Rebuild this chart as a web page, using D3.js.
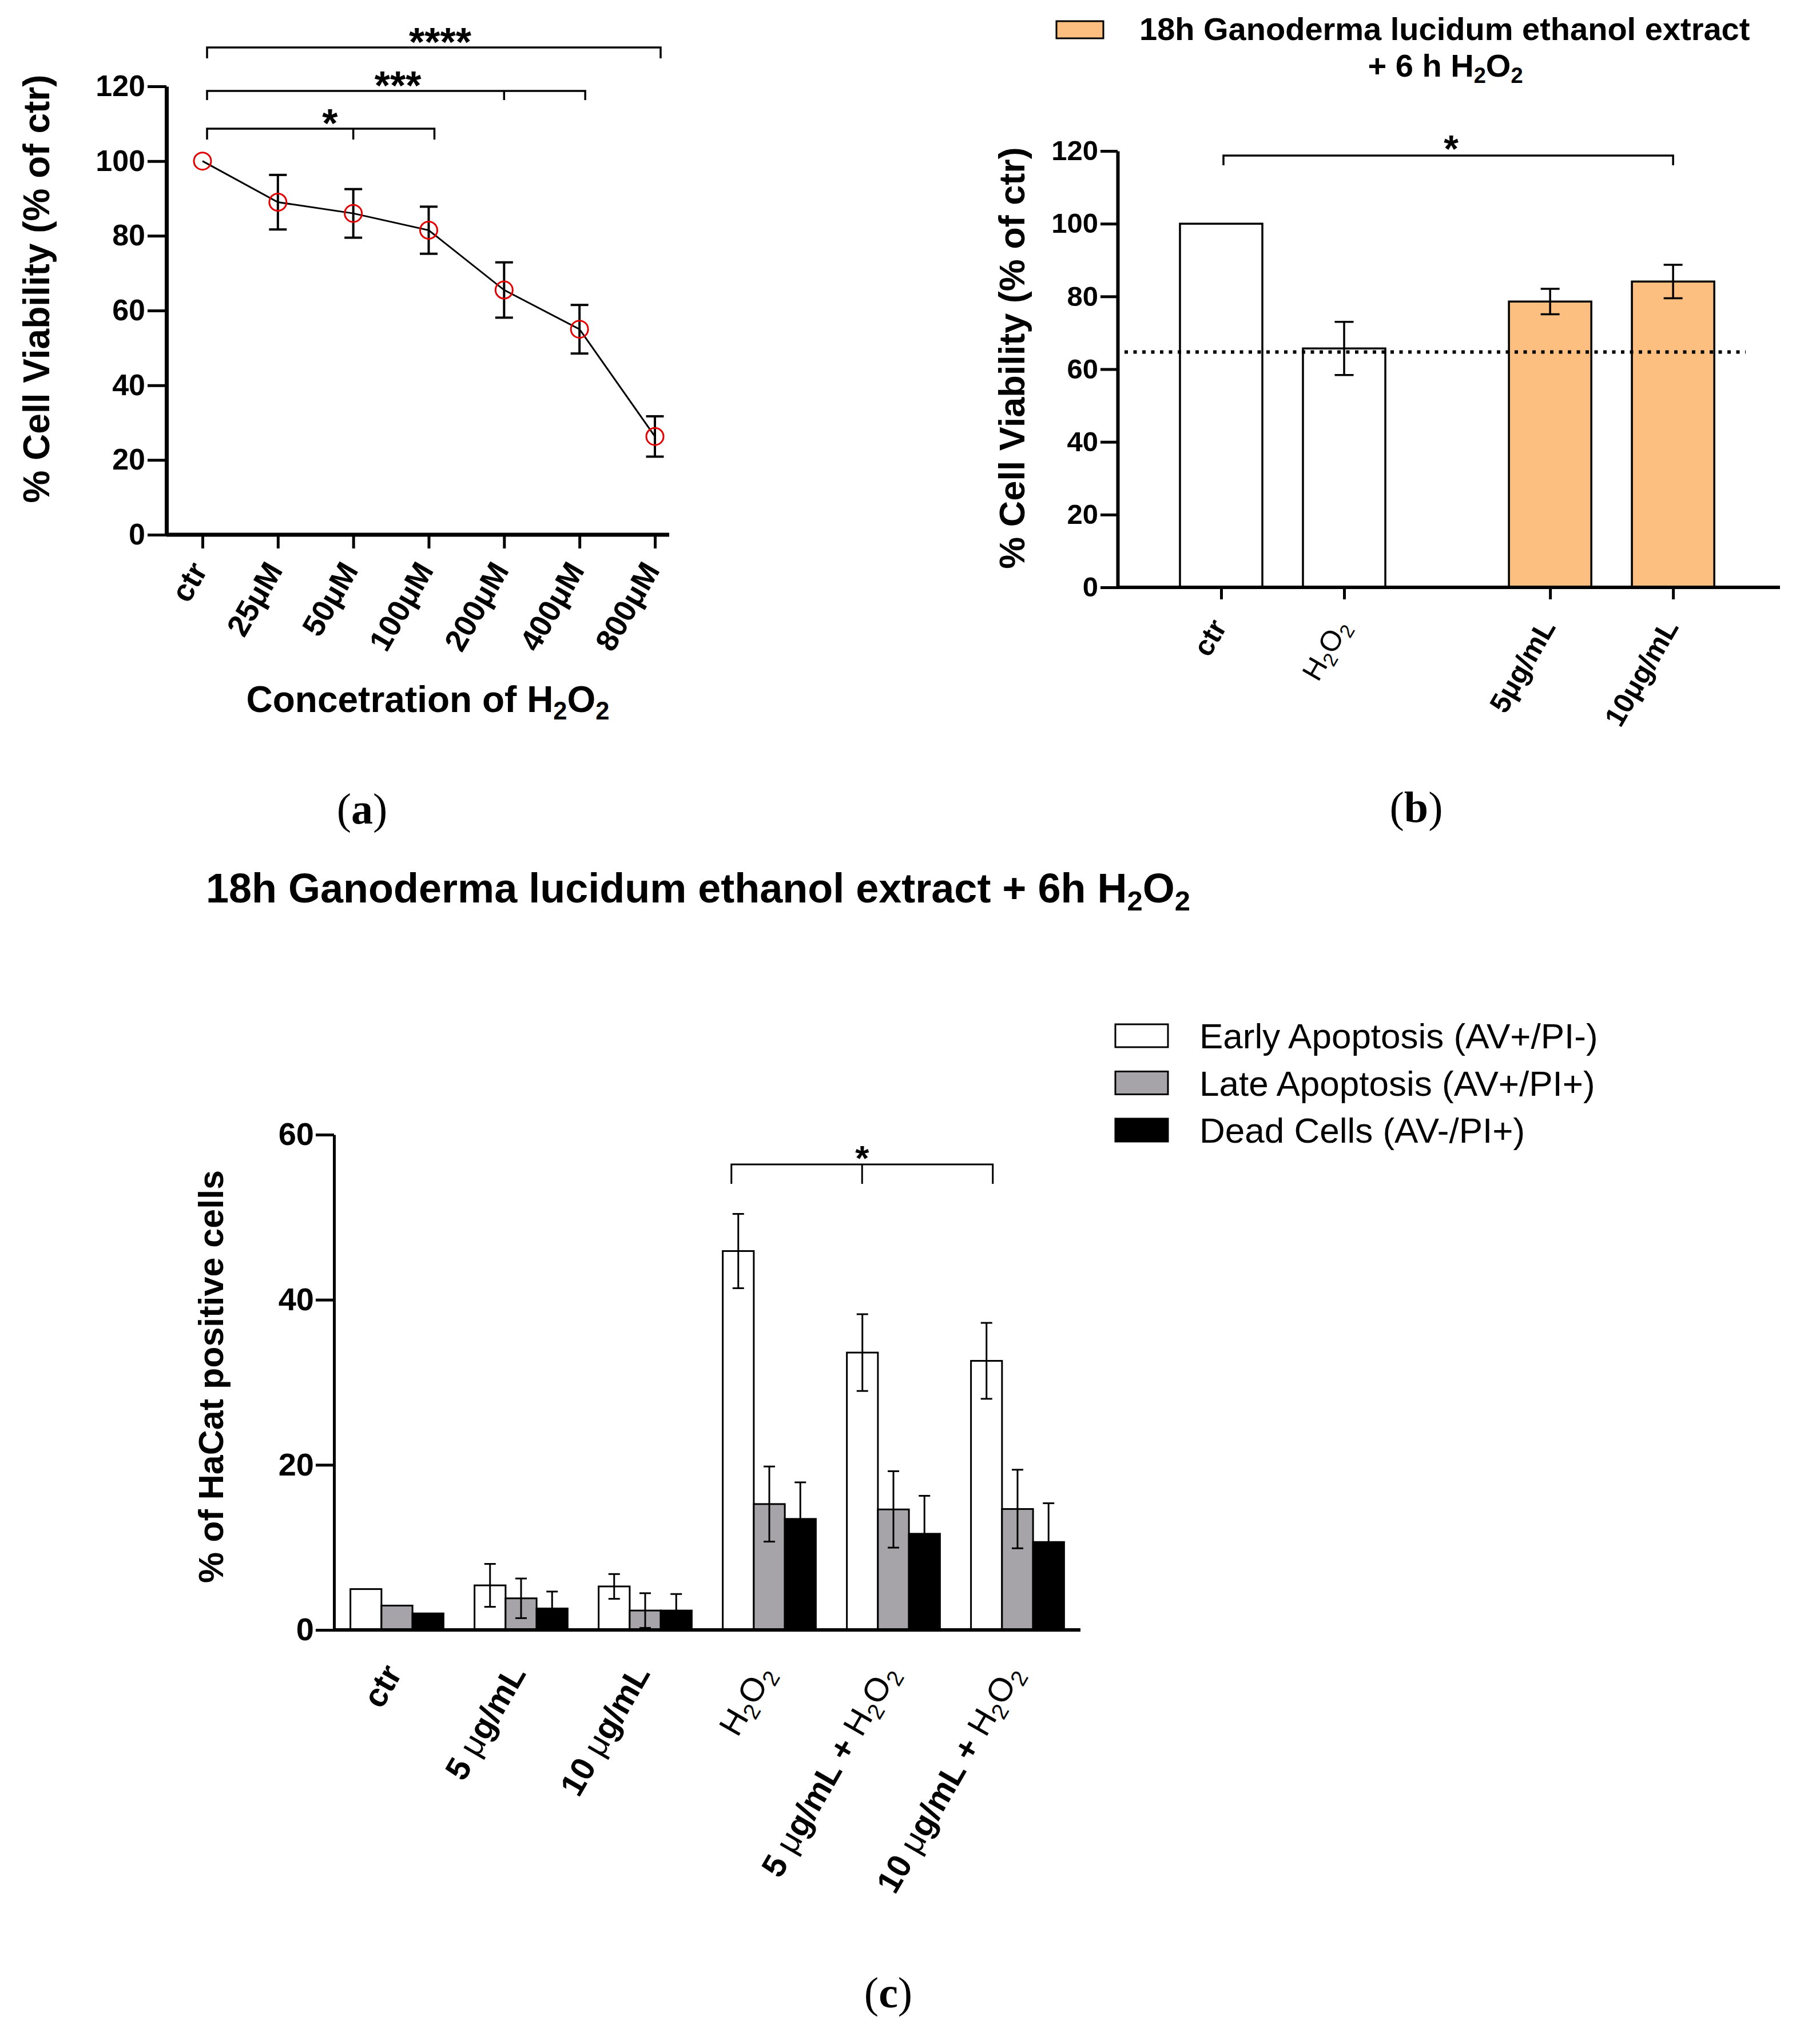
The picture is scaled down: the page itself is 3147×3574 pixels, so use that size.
<!DOCTYPE html>
<html><head><meta charset="utf-8">
<script src="https://cdn.jsdelivr.net/npm/d3@7"></script>
<style>
body{margin:0;background:#fff}
svg{display:block}
</style>
</head><body>
<svg id="fig" width="3147" height="3574"></svg>
<script>
// ---------------- DATA ----------------
// Panel (a)
const aCategories = ["ctr","25μM","50μM","100μM","200μM","400μM","800μM"];
const aValues = [100, 89, 86, 81.5, 65.5, 55, 26.3];
const aErrors = [0, 7.3, 6.5, 6.3, 7.4, 6.5, 5.4];
const aTicks = [0, 20, 40, 60, 80, 100, 120];
const aBrackets = [
  {from:"ctr", mid:"50μM", to:"100μM", label:"*"},
  {from:"ctr", mid:"200μM", to:"400μM", label:"***"},
  {from:"ctr", mid:null, to:"800μM", label:"****"}
];
const aXTitle = "Concetration of H2O2";
const aYTitle = "% Cell Viability (% of ctr)";

// Panel (b)
const bCategories = ["ctr","H2O2","5μg/mL","10μg/mL"];
const bValues = [100, 65.7, 78.6, 84.1];
const bErrors = [0, 7.3, 3.5, 4.6];
const bTreated = [false, false, true, true];
const bReference = 64.7;
const bTicks = [0, 20, 40, 60, 80, 100, 120];
const bLegend = ["18h Ganoderma lucidum ethanol extract", "+ 6 h H2O2"];
const bYTitle = "% Cell Viability (% of ctr)";
const bBracket = {from:"ctr", to:"10μg/mL", label:"*"};

// Panel (c)
const cTitle = "18h Ganoderma lucidum ethanol extract + 6h H2O2";
const cGroups = ["ctr","5 μg/mL","10 μg/mL","H2O2","5 μg/mL + H2O2","10 μg/mL + H2O2"];
const cSeries = ["Early Apoptosis (AV+/PI-)","Late Apoptosis (AV+/PI+)","Dead Cells (AV-/PI+)"];
const cEarly    = [4.95, 5.4, 5.27, 45.9, 33.6, 32.6];
const cEarlyErr = [0, 2.6, 1.5, 4.5, 4.65, 4.6];
const cLate     = [2.95, 3.83, 2.35, 15.25, 14.6, 14.65];
const cLateErr  = [0, 2.4, 2.1, 4.55, 4.63, 4.76];
const cDead     = [2.0, 2.6, 2.35, 13.45, 11.65, 10.65];
const cDeadErr  = [0, 2.05, 2.0, 4.43, 4.6, 4.7];
const cTicks = [0, 20, 40, 60];
const cYTitle = "% of HaCat positive cells";
const cBracket = {from:"H2O2", mid:"5 μg/mL + H2O2", to:"10 μg/mL + H2O2", label:"*"};

const panelLabels = ["a","b","c"];

// ---------------- HELPERS ----------------
const FONT = '"Liberation Sans", Arial, Helvetica, sans-serif';
const SERIF = '"Liberation Serif", "Times New Roman", serif';
const svg = d3.select("#fig");

function rich(sel, str, size, opts = {}) {
  const tokens = str.split(/(H2O2|μ)/).filter(s => s.length);
  let shifted = false;
  const sh = size * 0.2;
  tokens.forEach(tok => {
    if (tok === "H2O2") {
      [["H",false],["2",true],["O",false],["2",true]].forEach(([t, sub]) => {
        const ts = sel.append("tspan").text(t);
        if (opts.lightChem) ts.attr("font-weight", "normal");
        if (sub) {
          ts.attr("font-size", size * 0.68);
          if (!shifted) { ts.attr("dy", sh); shifted = true; }
        } else if (shifted) { ts.attr("dy", -sh); shifted = false; }
      });
    } else {
      const ts = sel.append("tspan").text(tok);
      if (shifted) { ts.attr("dy", -sh); shifted = false; }
      if (tok === "μ" && opts.lightMu) ts.attr("font-weight", "normal");
    }
  });
  return sel;
}

function styleAxis(g, domainW, tickW, size) {
  g.attr("font-family", FONT).attr("font-size", size).attr("font-weight", "bold");
  g.select(".domain").attr("stroke-width", domainW).attr("stroke", "#000");
  g.selectAll(".tick line").attr("stroke-width", tickW).attr("stroke", "#000");
  g.selectAll(".tick text").attr("fill", "#000");
}

function errorBar(g, x, yTop, yBot, cap, w) {
  g.append("line").attr("x1", x).attr("x2", x).attr("y1", yTop).attr("y2", yBot)
    .attr("stroke", "#000").attr("stroke-width", w);
  [yTop, yBot].forEach(y => g.append("line").attr("x1", x - cap/2).attr("x2", x + cap/2)
    .attr("y1", y).attr("y2", y).attr("stroke", "#000").attr("stroke-width", w));
}

function bracket(g, x1, x2, xm, y, drop, w) {
  const p = d3.path();
  p.moveTo(x1, y + drop); p.lineTo(x1, y); p.lineTo(x2, y); p.lineTo(x2, y + drop);
  if (xm !== null) { p.moveTo(xm, y); p.lineTo(xm, y + drop); }
  g.append("path").attr("d", p.toString()).attr("fill", "none")
    .attr("stroke", "#000").attr("stroke-width", w);
}

function star(g, x, baseline, label, size) {
  g.append("text").attr("x", x).attr("y", baseline).attr("text-anchor", "middle")
    .attr("font-family", FONT).attr("font-weight", "bold").attr("font-size", size).text(label);
}

// ---------------- PANEL A ----------------
{
  const g = svg.append("g");
  const x = d3.scalePoint().domain(aCategories).range([354, 1145]);
  const y = d3.scaleLinear().domain([0, 120]).range([935, 151]);

  const ya = g.append("g").attr("transform", "translate(291,0)")
    .call(d3.axisLeft(y).tickValues(aTicks).tickSize(33).tickSizeOuter(0).tickPadding(4));
  styleAxis(ya, 7, 5, 52);

  g.append("line").attr("x1", 291).attr("x2", 1170).attr("y1", y(0)).attr("y2", y(0))
    .attr("stroke", "#000").attr("stroke-width", 7);
  const xa = g.append("g").attr("transform", `translate(0,${y(0)})`)
    .call(d3.axisBottom(x).tickSize(24).tickSizeOuter(0).tickFormat(""));
  xa.select(".domain").remove();
  xa.selectAll(".tick line").attr("stroke-width", 5);

  aCategories.forEach(c => {
    const t = g.append("text").attr("transform", `translate(${x(c) + 10},997) rotate(-60)`)
      .attr("text-anchor", "end").attr("font-family", FONT).attr("font-weight", "bold")
      .attr("font-size", 54);
    rich(t, c, 54);
  });

  // error bars
  aCategories.forEach((c, i) => {
    if (aErrors[i] > 0) errorBar(g, x(c), y(aValues[i] + aErrors[i]), y(aValues[i] - aErrors[i]), 31, 4);
  });
  // line
  g.append("path").datum(aCategories.map((c, i) => [x(c), y(aValues[i])]))
    .attr("d", d3.line()).attr("fill", "none").attr("stroke", "#000").attr("stroke-width", 3);
  // markers
  g.selectAll("circle.m").data(aCategories).join("circle")
    .attr("cx", c => x(c)).attr("cy", (c, i) => y(aValues[i])).attr("r", 15)
    .attr("fill", "none").attr("stroke", "#e30000").attr("stroke-width", 3);

  // brackets
  const levels = [225, 159, 83], drops = [19, 16, 19], starDx = [16, 3, 11];
  aBrackets.forEach((b, i) => {
    const x1 = x(b.from) + 8, x2 = x(b.to) + 10;
    bracket(g, x1, x2, b.mid ? x(b.mid) : null, levels[i], drops[i], 3.5);
    star(g, (x1 + x2) / 2 + starDx[i], levels[i] + 15, b.label, 70);
  });

  // titles
  g.append("text").attr("transform", "translate(86,505) rotate(-90)")
    .attr("text-anchor", "middle").attr("font-family", FONT).attr("font-weight", "bold")
    .attr("font-size", 64).text(aYTitle);
  const xt = g.append("text").attr("x", 748).attr("y", 1245).attr("text-anchor", "middle")
    .attr("font-family", FONT).attr("font-weight", "bold").attr("font-size", 64);
  rich(xt, aXTitle, 64);
}

// ---------------- PANEL B ----------------
{
  const g = svg.append("g");
  const GAP = 0.675;
  const slot = i => i + (bTreated[i] ? GAP : 0);
  const x = d3.scaleLinear().domain([0, 1]).range([2135, 2350]);
  const y = d3.scaleLinear().domain([0, 120]).range([1027, 264]);
  const bw = x(0.67) - x(0);

  const ya = g.append("g").attr("transform", "translate(1954,0)")
    .call(d3.axisLeft(y).tickValues(bTicks).tickSize(30).tickSizeOuter(0).tickPadding(4));
  styleAxis(ya, 6, 5, 49);

  // bars
  bCategories.forEach((c, i) => {
    g.append("rect").attr("x", x(slot(i)) - bw / 2).attr("y", y(bValues[i]))
      .attr("width", bw).attr("height", y(0) - y(bValues[i]))
      .attr("fill", bTreated[i] ? "#fdbf80" : "#ffffff").attr("stroke", "#000").attr("stroke-width", 3.5);
  });
  // reference dotted line
  g.append("line").attr("x1", 1966).attr("x2", 3052).attr("y1", y(bReference)).attr("y2", y(bReference))
    .attr("stroke", "#000").attr("stroke-width", 6).attr("stroke-dasharray", "6,9.5");
  // error bars
  bCategories.forEach((c, i) => {
    if (bErrors[i] > 0) errorBar(g, x(slot(i)), y(bValues[i] + bErrors[i]), y(bValues[i] - bErrors[i]), 33, 3.5);
  });

  // x axis
  g.append("line").attr("x1", 1954).attr("x2", 3112).attr("y1", y(0)).attr("y2", y(0))
    .attr("stroke", "#000").attr("stroke-width", 6);
  const xa = g.append("g").attr("transform", `translate(0,${y(0)})`)
    .call(d3.axisBottom(x).tickValues(bCategories.map((c, i) => slot(i))).tickSize(21).tickSizeOuter(0).tickFormat(""));
  xa.select(".domain").remove();
  xa.selectAll(".tick line").attr("stroke-width", 5);
  bCategories.forEach((c, i) => {
    const t = g.append("text").attr("transform", `translate(${x(slot(i)) + 11},1096) rotate(-60)`)
      .attr("text-anchor", "end").attr("font-family", FONT).attr("font-weight", "bold")
      .attr("font-size", 50);
    rich(t, c, 50, {lightChem: true});
  });

  // bracket
  const i1 = bCategories.indexOf(bBracket.from), i2 = bCategories.indexOf(bBracket.to);
  const x1 = x(slot(i1)) + 4, x2 = x(slot(i2));
  bracket(g, x1, x2, null, 272, 17, 3.5);
  star(g, (x1 + x2) / 2 + 5, 283, bBracket.label, 66);

  // legend
  g.append("rect").attr("x", 1847).attr("y", 37).attr("width", 82).attr("height", 30)
    .attr("fill", "#fdbf80").attr("stroke", "#000").attr("stroke-width", 3);
  g.append("text").attr("x", 1992).attr("y", 70).attr("font-family", FONT).attr("font-weight", "bold")
    .attr("font-size", 56).text(bLegend[0]);
  const l2 = g.append("text").attr("x", 2527).attr("y", 134).attr("text-anchor", "middle")
    .attr("font-family", FONT).attr("font-weight", "bold").attr("font-size", 56);
  rich(l2, bLegend[1], 56);

  g.append("text").attr("transform", "translate(1791,626) rotate(-90)")
    .attr("text-anchor", "middle").attr("font-family", FONT).attr("font-weight", "bold")
    .attr("font-size", 63).text(bYTitle);
}

// ---------------- PANEL C ----------------
{
  const g = svg.append("g");
  const x0 = d3.scaleBand().domain(cGroups).range([584, 1889]).paddingInner(0.25).paddingOuter(0.132);
  const x1 = d3.scaleBand().domain(cSeries).range([0, x0.bandwidth()]);
  const y = d3.scaleLinear().domain([0, 60]).range([2850, 1984]);
  const fills = ["#ffffff", "#a6a4a9", "#000000"];
  const vals = [cEarly, cLate, cDead];
  const errs = [cEarlyErr, cLateErr, cDeadErr];

  // title
  const tt = g.append("text").attr("x", 360).attr("y", 1578).attr("font-family", FONT)
    .attr("font-weight", "bold").attr("font-size", 72);
  rich(tt, cTitle, 72);

  const ya = g.append("g").attr("transform", "translate(584,0)")
    .call(d3.axisLeft(y).tickValues(cTicks).tickSize(32).tickSizeOuter(0).tickPadding(3));
  styleAxis(ya, 5, 5, 56);

  // bars
  cGroups.forEach((grp, gi) => {
    cSeries.forEach((s, si) => {
      const v = vals[si][gi];
      g.append("rect").attr("x", x0(grp) + x1(s)).attr("y", y(v))
        .attr("width", x1.bandwidth()).attr("height", y(0) - y(v))
        .attr("fill", fills[si]).attr("stroke", "#000").attr("stroke-width", 3);
    });
  });
  cGroups.forEach((grp, gi) => {
    cSeries.forEach((s, si) => {
      const v = vals[si][gi], e = errs[si][gi];
      if (e > 0) errorBar(g, x0(grp) + x1(s) + x1.bandwidth() / 2, y(v + e), y(v - e), 20, 3);
    });
  });

  g.append("line").attr("x1", 584).attr("x2", 1889).attr("y1", y(0)).attr("y2", y(0))
    .attr("stroke", "#000").attr("stroke-width", 6);

  cGroups.forEach(grp => {
    const cx = x0(grp) + x0.bandwidth() / 2;
    const t = g.append("text").attr("transform", `translate(${cx + 10},2926) rotate(-60)`)
      .attr("text-anchor", "end").attr("font-family", FONT).attr("font-weight", "bold")
      .attr("font-size", 58);
    rich(t, grp, 58, {lightChem: true, lightMu: true});
  });

  // bracket
  const wc = grp => x0(grp) + x1(cSeries[0]) + x1.bandwidth() / 2;
  const bx1 = wc(cBracket.from) - 12, bx2 = wc(cBracket.to) + 11;
  const bxm = (bx1 + bx2) / 2;
  bracket(g, bx1, bx2, bxm, 2036, 34, 3);
  star(g, bxm, 2046, cBracket.label, 62);

  // legend
  cSeries.forEach((s, i) => {
    const cy = 1811 + i * 82.5;
    g.append("rect").attr("x", 1950).attr("y", cy - 20).attr("width", 92).attr("height", 40)
      .attr("fill", fills[i]).attr("stroke", "#000").attr("stroke-width", 3);
    g.append("text").attr("x", 2097).attr("y", cy + 22).attr("font-family", FONT)
      .attr("font-size", 62).attr("fill", "#000").text(s);
  });

  g.append("text").attr("transform", "translate(390,2407) rotate(-90)")
    .attr("text-anchor", "middle").attr("font-family", FONT).attr("font-weight", "bold")
    .attr("font-size", 61).text(cYTitle);
}

// ---------------- PANEL LABELS ----------------
const labelPos = [[633, 1440], [2476, 1437], [1553, 3510]];
panelLabels.forEach((l, i) => {
  const t = svg.append("text").attr("x", labelPos[i][0]).attr("y", labelPos[i][1])
    .attr("text-anchor", "middle").attr("font-family", SERIF).attr("font-size", 76);
  t.append("tspan").text("(");
  t.append("tspan").attr("font-weight", "bold").text(l);
  t.append("tspan").text(")");
});
</script>
</body></html>
